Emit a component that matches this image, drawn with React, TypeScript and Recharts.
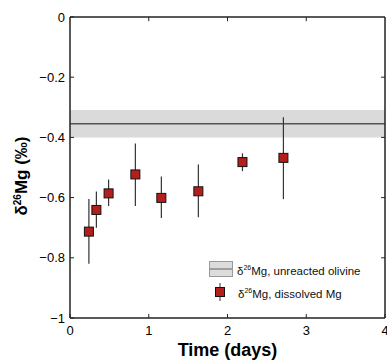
import React from 'react';
import {
  ComposedChart, Scatter, XAxis, YAxis, ErrorBar, ReferenceArea,
  ReferenceLine, Label,
} from 'recharts';

// sampling times (days)
const times = [0.24, 0.335, 0.49, 0.83, 1.16, 1.63, 2.19, 2.71];
// δ26Mg of dissolved Mg (‰)
const dissolved = [-0.713, -0.641, -0.586, -0.523, -0.601, -0.579, -0.482, -0.468];
const errLow = [-0.82, -0.7, -0.628, -0.628, -0.668, -0.665, -0.512, -0.605];
const errHigh = [-0.605, -0.58, -0.54, -0.42, -0.53, -0.49, -0.453, -0.333];

// unreacted olivine value and its band
const olivineMean = -0.355;
const olivineBand = [-0.4, -0.309];

const xTicks = [0, 1, 2, 3, 4];
const yTicks = [0, -0.2, -0.4, -0.6, -0.8, -1];

const data = times.map((t, i) => ({
  t,
  d: dissolved[i],
  err: [dissolved[i] - errLow[i], errHigh[i] - dissolved[i]],
}));

const FONT = '"Liberation Sans", Arial, Helvetica, sans-serif';
const fmt = (v: number) => String(v).replace('-', '\u2212');
const AX = '#222';

const Square = (props: any) => {
  const { cx, cy } = props;
  if (cx == null || cy == null) return null;
  return <rect x={cx - 4.5} y={cy - 4.5} width={9} height={9} fill="#b3201c" stroke="#111" strokeWidth={1} />;
};

const YLabel = () => (
  <text
    x={0}
    y={0}
    transform="translate(27,176) rotate(-90)"
    textAnchor="middle"
    fontFamily={FONT}
    fontWeight="bold"
    fontSize={17}
    fill="#000"
  >
    δ<tspan fontSize={10} dy={-6}>26</tspan>
    <tspan dy={6}>Mg (‰)</tspan>
  </text>
);

const LegendBox = () => (
  <div style={{ position: 'absolute', left: 209, top: 261, fontFamily: FONT, fontSize: 11.5, color: '#111', lineHeight: '14px' }}>
    <div style={{ display: 'flex', alignItems: 'center', height: 16 }}>
      <svg width={24} height={16} style={{ marginRight: 4 }}>
        <rect x={0.5} y={0.5} width={23} height={15} fill="#dcdcdc" stroke="#999" />
        <line x1={1} x2={23} y1={8} y2={8} stroke="#777" strokeWidth={1.2} />
      </svg>
      <span>δ<sup style={{ fontSize: 7 }}>26</sup>Mg, unreacted olivine</span>
    </div>
    <div style={{ display: 'flex', alignItems: 'center', height: 20, marginTop: 5 }}>
      <svg width={24} height={20} style={{ marginRight: 5 }}>
        <line x1={11} x2={11} y1={1} y2={19} stroke="#333" />
        <rect x={6.5} y={5.5} width={9} height={9} fill="#b3201c" stroke="#111" />
      </svg>
      <span>δ<sup style={{ fontSize: 7 }}>26</sup>Mg, dissolved Mg</span>
    </div>
  </div>
);

export default function App() {
  return (
    <div style={{ position: 'absolute', left: 0, top: 0, width: 387, height: 363, background: '#fff', overflow: 'hidden' }}>
      <ComposedChart width={387} height={363} data={data} margin={{ top: 17, right: 2, left: 0, bottom: 0 }}>
        <ReferenceArea y1={olivineBand[0]} y2={olivineBand[1]} fill="#dadada" fillOpacity={1} stroke="none" ifOverflow="hidden" />
        <ReferenceLine y={olivineMean} stroke="#555" strokeWidth={1.5} />
        <XAxis
          type="number"
          dataKey="t"
          domain={[0, 4]}
          ticks={xTicks}
          interval={0}
          height={45}
          tickSize={-4}
          tickMargin={12}
          stroke={AX}
          axisLine={{ stroke: AX, strokeWidth: 1.5 }}
          tick={{ fill: '#000', fontSize: 13, fontFamily: FONT }}
          allowDataOverflow
        >
          <Label value="Time (days)" position="insideBottom" offset={7} style={{ fontFamily: FONT, fontWeight: 'bold', fontSize: 18, fill: '#000' }} />
        </XAxis>
        <YAxis
          type="number"
          domain={[-1, 0]}
          ticks={yTicks}
          interval={0}
          width={70}
          tickSize={-4}
          tickMargin={9}
          tickFormatter={fmt}
          stroke={AX}
          axisLine={{ stroke: AX, strokeWidth: 1.5 }}
          tick={{ fill: '#000', fontSize: 13, fontFamily: FONT }}
          label={<YLabel />}
        />
        {/* box frame: top and right edges with inward ticks */}
        <ReferenceLine y={0} stroke={AX} strokeWidth={1.5} ifOverflow="visible" />
        <ReferenceLine x={4} stroke={AX} strokeWidth={1.5} ifOverflow="visible" />
        {xTicks.slice(1, -1).map((v) => (
          <ReferenceLine key={'tx' + v} segment={[{ x: v, y: 0 }, { x: v, y: -0.014 }]} stroke={AX} strokeWidth={1} ifOverflow="visible" />
        ))}
        {yTicks.slice(1, -1).map((v) => (
          <ReferenceLine key={'ty' + v} segment={[{ x: 4, y: v }, { x: 3.95, y: v }]} stroke={AX} strokeWidth={1} ifOverflow="visible" />
        ))}
        <Scatter dataKey="d" shape={<Square />} isAnimationActive={false}>
          <ErrorBar dataKey="err" direction="y" width={0} stroke="#333" strokeWidth={1.2} />
        </Scatter>
      </ComposedChart>
      <LegendBox />
    </div>
  );
}
